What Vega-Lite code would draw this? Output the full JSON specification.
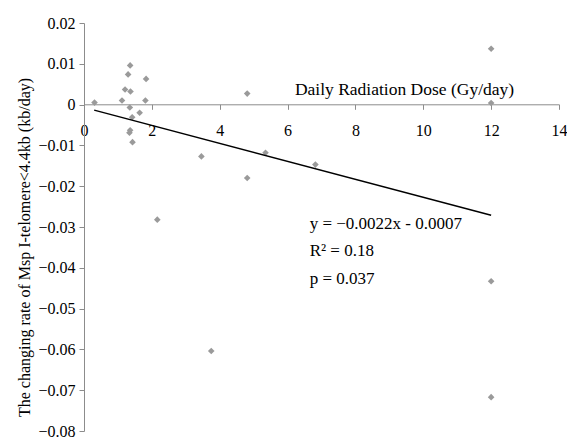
{
  "$schema": "https://vega.github.io/schema/vega-lite/v6.json",
  "width": 475,
  "height": 408,
  "autosize": {"type": "none"},
  "padding": {"left": 84, "top": 23, "right": 8, "bottom": 7},
  "background": "white",
  "config": {
    "view": {"stroke": null},
    "font": "Liberation Serif",
    "axis": {
      "grid": false,
      "domainColor": "#8c8c8c",
      "tickColor": "#8c8c8c",
      "labelColor": "#000000",
      "titleColor": "#000000",
      "labelFont": "Liberation Serif",
      "titleFont": "Liberation Serif",
      "labelFontSize": 16,
      "titleFontSize": 16,
      "titleFontWeight": "normal",
      "tickSize": 5
    }
  },
  "datasets": {
    "points": [
      {"dose": 0.31, "rate": 0.0005},
      {"dose": 1.36, "rate": 0.0096},
      {"dose": 1.30, "rate": 0.0074},
      {"dose": 1.83, "rate": 0.0063},
      {"dose": 1.21, "rate": 0.0037},
      {"dose": 1.37, "rate": 0.0032},
      {"dose": 1.12, "rate": 0.0010},
      {"dose": 1.81, "rate": 0.0010},
      {"dose": 1.35, "rate": -0.0007},
      {"dose": 1.64, "rate": -0.0020},
      {"dose": 1.42, "rate": -0.0031},
      {"dose": 1.36, "rate": -0.0063},
      {"dose": 1.34, "rate": -0.0069},
      {"dose": 1.43, "rate": -0.0092},
      {"dose": 3.46, "rate": -0.0127},
      {"dose": 4.81, "rate": 0.0027},
      {"dose": 4.81, "rate": -0.0180},
      {"dose": 5.35, "rate": -0.0118},
      {"dose": 6.82, "rate": -0.0147},
      {"dose": 2.16, "rate": -0.0282},
      {"dose": 3.75, "rate": -0.0604},
      {"dose": 12, "rate": 0.0137},
      {"dose": 12, "rate": 0.0004},
      {"dose": 12, "rate": -0.0433},
      {"dose": 12, "rate": -0.0717}
    ],
    "trend": [
      {"dose": 0.3, "rate": -0.00136},
      {"dose": 12, "rate": -0.0271}
    ],
    "stats": [
      {"dose": 6.65, "rate": -0.0304, "label": "y = −0.0022x - 0.0007"},
      {"dose": 6.65, "rate": -0.0372, "label": "R² = 0.18"},
      {"dose": 6.65, "rate": -0.0440, "label": "p = 0.037"}
    ]
  },
  "layer": [
    {
      "data": {"name": "points"},
      "mark": {"type": "point", "shape": "diamond", "filled": true, "size": 44, "color": "#9a9a9a", "opacity": 1},
      "encoding": {
        "x": {
          "field": "dose", "type": "quantitative",
          "scale": {"domain": [0, 14], "nice": false, "zero": false},
          "axis": {
            "title": "Daily Radiation Dose (Gy/day)",
            "orient": "bottom",
            "offset": -326.7,
            "values": [0, 2, 4, 6, 8, 10, 12, 14],
            "format": "d",
            "labelPadding": 13,
            "labelFlush": false,
            "titleFontSize": 17.5,
            "titleX": 320,
            "titleY": -10,
            "titleAlign": "center",
            "titleBaseline": "alphabetic"
          }
        },
        "y": {
          "field": "rate", "type": "quantitative",
          "scale": {"domain": [-0.08, 0.02], "nice": false, "zero": false},
          "axis": {
            "title": "The changing rate of Msp I-telomere<4.4kb (kb/day)",
            "values": [-0.08, -0.07, -0.06, -0.05, -0.04, -0.03, -0.02, -0.01, 0, 0.01, 0.02],
            "format": ".2~f",
            "labelPadding": 4,
            "titleAngle": -90,
            "titleX": -60,
            "titleY": 224,
            "titleAlign": "center",
            "titleBaseline": "middle"
          }
        }
      }
    },
    {
      "data": {"name": "trend"},
      "mark": {"type": "line", "color": "#000000", "strokeWidth": 1.5},
      "encoding": {
        "x": {"field": "dose", "type": "quantitative"},
        "y": {"field": "rate", "type": "quantitative"}
      }
    },
    {
      "data": {"name": "stats"},
      "mark": {"type": "text", "align": "left", "baseline": "alphabetic", "fontSize": 17, "font": "Liberation Serif", "color": "#000000"},
      "encoding": {
        "x": {"field": "dose", "type": "quantitative"},
        "y": {"field": "rate", "type": "quantitative"},
        "text": {"field": "label"}
      }
    }
  ]
}
